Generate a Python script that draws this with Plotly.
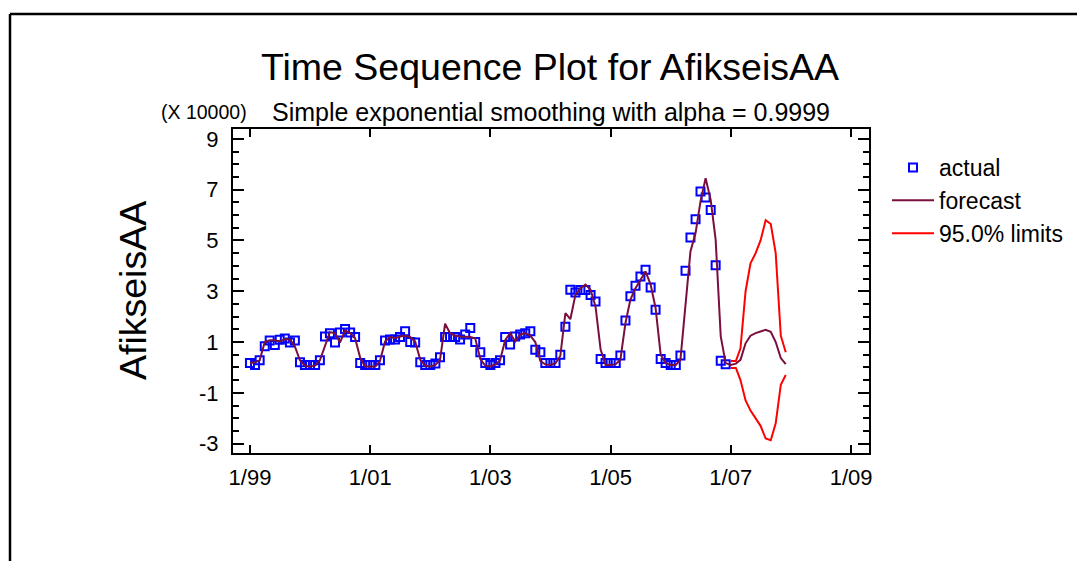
import plotly.graph_objects as go
import pandas as pd

# ---- data (values in units of 10000) ----
actual_start = "1999-01-01"
actual = [
    0.17, 0.10, 0.28, 0.83, 1.06, 0.88, 1.09, 1.14, 0.98, 1.06, 0.20, 0.10,   # 1999
    0.10, 0.10, 0.28, 1.22, 1.35, 0.98, 1.38, 1.51, 1.38, 1.20, 0.17, 0.10,   # 2000
    0.10, 0.10, 0.28, 1.06, 1.10, 1.10, 1.20, 1.42, 1.00, 0.98, 0.20, 0.10,   # 2001
    0.10, 0.15, 0.40, 1.20, 1.20, 1.20, 1.10, 1.30, 1.55, 1.00, 0.60, 0.17,   # 2002
    0.10, 0.17, 0.28, 1.20, 0.90, 1.22, 1.30, 1.35, 1.42, 0.70, 0.60, 0.17,   # 2003
    0.17, 0.17, 0.50, 1.60, 3.06, 2.95, 3.05, 3.05, 2.85, 2.60, 0.33, 0.17,   # 2004
    0.17, 0.17, 0.47, 1.85, 2.80, 3.22, 3.58, 3.85, 3.15, 2.27, 0.33, 0.17,   # 2005
    0.10, 0.10, 0.47, 3.81, 5.12, 5.84, 6.93, 6.69, 6.20, 4.02, 0.26, 0.13,   # 2006
]
forecast = [
    0.17, 0.20, 0.28, 1.00, 1.07, 1.07, 1.02, 1.12, 1.10, 0.83, 0.28, 0.07,
    0.04, 0.07, 0.28, 0.83, 1.39, 1.35, 0.98, 1.45, 1.35, 1.15, 0.38, 0.04,
    0.04, 0.04, 0.25, 1.02, 1.20, 1.15, 1.22, 1.25, 1.20, 1.02, 0.30, 0.07,
    0.04, 0.10, 0.30, 1.72, 1.35, 1.25, 1.22, 1.20, 1.20, 1.15, 0.33, 0.07,
    0.04, 0.12, 0.28, 1.07, 1.35, 1.02, 1.30, 1.35, 1.25, 1.00, 0.25, 0.12,
    0.10, 0.17, 0.45, 2.14, 1.90, 2.86, 3.12, 3.26, 3.06, 2.40, 0.70, 0.10,
    0.10, 0.13, 0.30, 1.75, 2.67, 3.12, 3.45, 3.78, 3.26, 2.34, 0.50, 0.17,
    0.10, 0.10, 0.30, 2.40, 4.57, 5.29, 6.54, 7.45, 6.60, 5.03, 1.22, 0.17,
    0.10, 0.15, 0.30, 0.95, 1.25, 1.35, 1.42, 1.48, 1.40, 1.00, 0.37, 0.13,   # 2007
]
limits_start = "2007-01-01"
upper = [0.25, 0.25, 0.75, 3.00, 4.10, 4.50, 5.00, 5.80, 5.65, 4.50, 1.25, 0.60]
lower = [-0.02, -0.02, -0.50, -1.30, -1.70, -2.00, -2.30, -2.80, -2.87, -2.20, -0.68, -0.30]

x_tick_dates = ["1999-01-01", "2001-01-01", "2003-01-01", "2005-01-01", "2007-01-01", "2009-01-01"]
x_tick_labels = ["1/99", "1/01", "1/03", "1/05", "1/07", "1/09"]
y_tick_vals = [-3, -1, 1, 3, 5, 7, 9]
y_tick_labels = ["-3", "-1", "1", "3", "5", "7", "9"]
legend_names = ["actual", "forecast", "95.0% limits"]

dates_actual = pd.date_range(actual_start, periods=len(actual), freq="MS")
dates_fc = pd.date_range(actual_start, periods=len(forecast), freq="MS")
dates_lim = pd.date_range(limits_start, periods=len(upper), freq="MS")

FONT = "Arial, Liberation Sans, sans-serif"
W, H = 1077, 561
L, R, T, B = 233, 869, 129, 453

fig = go.Figure()
fig.add_trace(go.Scatter(
    x=dates_actual, y=actual, mode="markers", name=legend_names[0],
    marker=dict(symbol="square-open", size=8, color="#0000FF", line=dict(width=2, color="#0000FF")),
))
fig.add_trace(go.Scatter(
    x=dates_fc, y=forecast, mode="lines", name=legend_names[1],
    line=dict(color="#7A0F3E", width=2),
))
fig.add_trace(go.Scatter(
    x=dates_lim, y=upper, mode="lines", name=legend_names[2], legendgroup="lim",
    line=dict(color="#FF0000", width=2),
))
fig.add_trace(go.Scatter(
    x=dates_lim, y=lower, mode="lines", name=legend_names[2], legendgroup="lim",
    showlegend=False, line=dict(color="#FF0000", width=2),
))

def px_x(px):
    return (px - L) / (R - L)

def px_y(py):
    return (B - py) / (B - T)

annotations = [
    dict(text="Time Sequence Plot for AfikseisAA", x=px_x(550), y=px_y(67),
         font=dict(size=37.5, color="black", family=FONT)),
    dict(text="Simple exponential smoothing with alpha = 0.9999", x=px_x(551), y=px_y(112),
         font=dict(size=25, color="black", family=FONT)),
    dict(text="(X 10000)", x=px_x(204), y=px_y(112),
         font=dict(size=19.5, color="black", family=FONT)),
    dict(text="AfikseisAA", x=px_x(133), y=0.5, textangle=-90,
         font=dict(size=37.5, color="black", family=FONT)),
]
for a in annotations:
    a.update(xref="paper", yref="paper", showarrow=False, xanchor="center", yanchor="middle")

fig.update_layout(
    width=W, height=H,
    margin=dict(l=L, r=W - R, t=T, b=H - B, autoexpand=False),
    paper_bgcolor="white", plot_bgcolor="white",
    font=dict(family=FONT, size=22, color="black"),
    annotations=annotations,
    showlegend=True,
    legend=dict(x=px_x(887), y=px_y(146), xanchor="left", yanchor="top",
                font=dict(size=23, family=FONT, color="black"),
                bgcolor="rgba(0,0,0,0)", itemwidth=42, tracegroupgap=0),
    shapes=[
        dict(type="line", xref="paper", yref="paper", x0=px_x(10), x1=px_x(1100), y0=px_y(14), y1=px_y(14),
             line=dict(color="black", width=2.5)),
        dict(type="line", xref="paper", yref="paper", x0=px_x(10), x1=px_x(10), y0=px_y(14), y1=px_y(600),
             line=dict(color="black", width=2.5)),
    ],
)
fig.update_xaxes(
    type="date", range=["1998-09-20", "2009-04-20"],
    tickvals=x_tick_dates, ticktext=x_tick_labels,
    showgrid=False, zeroline=False,
    showline=True, linecolor="black", linewidth=2, mirror="allticks",
    ticks="inside", ticklen=8, tickwidth=2, tickcolor="black", ticklabelstandoff=4,
    tickfont=dict(size=22, family=FONT, color="black"),
)
fig.update_yaxes(
    range=[-3.37, 9.39],
    tickvals=y_tick_vals, ticktext=y_tick_labels,
    showgrid=False, zeroline=False,
    showline=True, linecolor="black", linewidth=2, mirror="allticks",
    ticks="inside", ticklen=11, tickwidth=2, tickcolor="black", ticklabelstandoff=8,
    minor=dict(ticks="inside", dtick=0.5, tick0=0, ticklen=6, tickwidth=2, tickcolor="black", showgrid=False),
    tickfont=dict(size=22, family=FONT, color="black"),
)

fig.write_html("out.html")
